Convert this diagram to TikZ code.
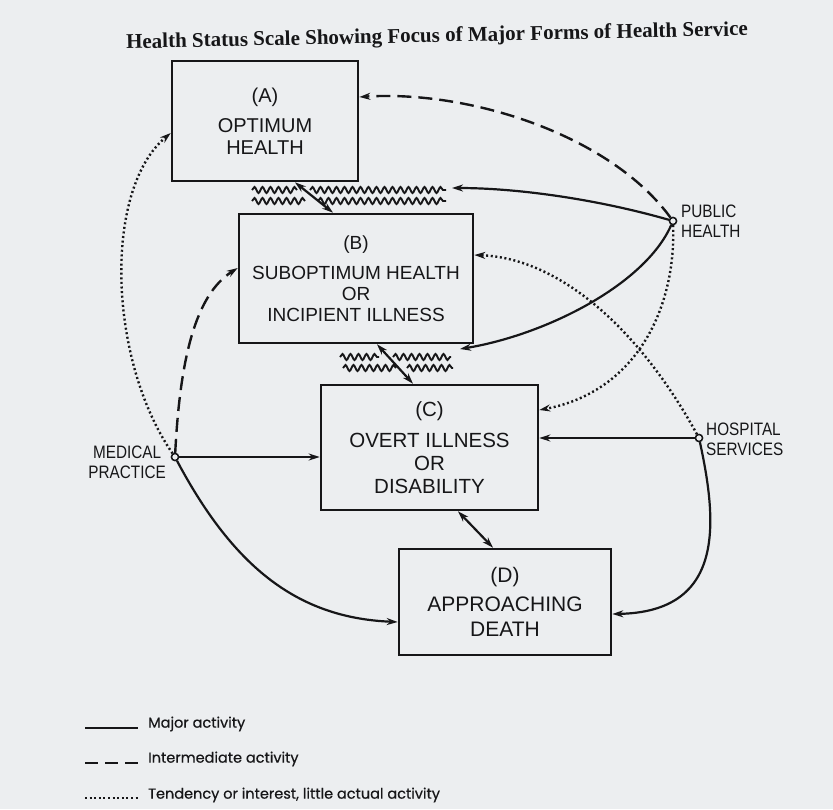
\documentclass[tikz,border=0pt]{standalone}
\usepackage{fontspec}
\setmainfont{Liberation Sans}
\newfontfamily\titlefont{Liberation Serif}
\newfontfamily\lblfont[FakeStretch=0.85]{Liberation Sans}
\newfontfamily\legfont[FakeBold=0.5]{Poppins}
\usetikzlibrary{arrows.meta,decorations.pathmorphing,calc}
\definecolor{paper}{RGB}{236,238,240}
\definecolor{ink}{RGB}{22,22,24}
\begin{document}
\begin{tikzpicture}[x=1pt,y=-1pt,
  box/.style={draw=ink,text=ink,line width=2.6pt,inner sep=0pt,align=center,font=\fontsize{20}{22}\selectfont},
  tip/.style={-{Stealth[length=11pt,width=7pt]}},
  major/.style={draw=ink,line width=2.2pt,tip},
  inter/.style={draw=ink,line width=2.4pt,dash pattern=on 14pt off 7pt,tip},
  tend/.style={draw=ink,line width=2.4pt,dash pattern=on 2pt off 2.6pt,tip},
  dbl/.style={draw=ink,line width=2.2pt,{Stealth[length=11pt,width=7pt]}-{Stealth[length=11pt,width=7pt]}},
  hub/.style={circle,draw=ink,line width=1.4pt,fill=paper,inner sep=0pt,minimum size=7pt},
  lbl/.style={align=left,inner sep=0pt,text=ink,font=\lblfont\fontsize{18}{20}\selectfont},
  wavy/.style={draw=ink,line width=1.9pt,decorate,decoration={snake,segment length=8pt,amplitude=3pt}},
  legtext/.style={anchor=west,inner sep=0pt,text=ink,font=\legfont\fontsize{14.5}{16}\selectfont}]
\fill[paper] (0,0) rectangle (833,809);
\useasboundingbox (0,0) rectangle (833,809);

\node[text=ink,font=\titlefont\bfseries\fontsize{21}{24}\selectfont,rotate=1.2] (title) at (437,37)
  {Health Status Scale Showing Focus of Major Forms of Health Service};

\node[box,minimum width=186pt,minimum height=120pt] (A) at (265,121) {(A)\\[8pt]OPTIMUM\\HEALTH};
\node[box,minimum width=234pt,minimum height=129pt,font=\fontsize{19}{21}\selectfont] (B) at (356,278.5) {(B)\\[9pt]SUBOPTIMUM HEALTH\\OR\\INCIPIENT ILLNESS};
\node[box,minimum width=217pt,minimum height=125pt,font=\fontsize{20.5}{23}\selectfont] (C) at (429.5,447.5) {(C)\\[8pt]OVERT ILLNESS\\OR\\DISABILITY};
\node[box,minimum width=212pt,minimum height=106pt,font=\fontsize{21}{25}\selectfont] (D) at (505,602) {(D)\\[4pt]APPROACHING\\DEATH};

\node[hub] (PH) at (673,221) {};
\node[hub] (HS) at (699,438) {};
\node[hub] (MP) at (175,457) {};

\node[lbl,anchor=west] (PHl) at (681,221) {PUBLIC\\HEALTH};
\node[lbl,anchor=west] (HSl) at (706,439) {HOSPITAL\\SERVICES};
\node[lbl,anchor=east,align=center] (MPl) at (166,462) {MEDICAL\\PRACTICE};

% wavy barriers
\draw[wavy] (252,190) -- (297,190);
\draw[wavy] (310,190) -- (446,190);
\draw[wavy] (252,201) -- (305,201);
\draw[wavy] (318,201) -- (446,201);
\draw[wavy] (340,357) -- (379,357);
\draw[wavy] (393,357) -- (451,357);
\draw[wavy] (343,368) -- (396,368);
\draw[wavy] (407,368) -- (453,368);

% end points on boxes
\coordinate (aR) at (A.east |- 0,97);
\coordinate (abR) at (452,188);
\coordinate (bcR) at (460,349);
\coordinate (cR1) at (C.east |- 0,410);
\coordinate (bR) at (B.east |- 0,255);
\coordinate (dR) at (D.east |- 0,614);
\coordinate (aL) at (A.west |- 0,133);
\coordinate (bL) at (B.west |- 0,268);
\coordinate (dL) at (D.west |- 0,622);
\coordinate (ab1) at (A.south -| 295,0);
\coordinate (ab2) at (B.north -| 333,0);
\coordinate (bc1) at (B.south -| 377,0);
\coordinate (bc2) at (C.north -| 413,0);
\coordinate (cd1) at (C.south -| 458,0);
\coordinate (cd2) at (D.north -| 493,0);

\draw[dbl] (ab1) -- (ab2);
\draw[dbl] (bc1) -- (bc2);
\draw[dbl] (cd1) -- (cd2);

% public health
\draw[inter] (PH) .. controls (610,135) and (470,90) .. (aR);
\draw[major] (PH) .. controls (600,200) and (520,188) .. (abR);
\draw[major] (PH) .. controls (645,285) and (545,335) .. (bcR);
\draw[tend] (PH) .. controls (676,310) and (635,392) .. (cR1);
% hospital services
\draw[tend] (HS) .. controls (640,330) and (560,258) .. (bR);
\draw[major] (HS) -- (HS -| C.east);
\draw[major] (HS) .. controls (718,525) and (724,612) .. (dR);
% medical practice
\draw[tend] (MP) .. controls (108,360) and (103,190) .. (aL);
\draw[inter] (MP) .. controls (180,360) and (195,295) .. (bL);
\draw[major] (MP) -- (MP -| C.west);
\draw[major] (MP) .. controls (235,570) and (300,618) .. (dL);

% hubs on top
\node[hub] at (PH) {};
\node[hub] at (HS) {};
\node[hub] at (MP) {};

% legend
\coordinate (l1a) at (85,728); \coordinate (l1b) at (138,728);
\coordinate (l2a) at (85,763); \coordinate (l2b) at (138,763);
\coordinate (l3a) at (85,798); \coordinate (l3b) at (138,798);
\draw[ink,line width=2.4pt] (l1a) -- (l1b);
\draw[ink,line width=2.4pt,dash pattern=on 13pt off 7pt] (l2a) -- (l2b);
\draw[ink,line width=2.4pt,dash pattern=on 2pt off 2.6pt] (l3a) -- (l3b);
\node[legtext] (L1) at (148,724) {Major activity};
\node[legtext] (L2) at (148,759) {Intermediate activity};
\node[legtext] (L3) at (148,795) {Tendency or interest, little actual activity};
\end{tikzpicture}
\end{document}
